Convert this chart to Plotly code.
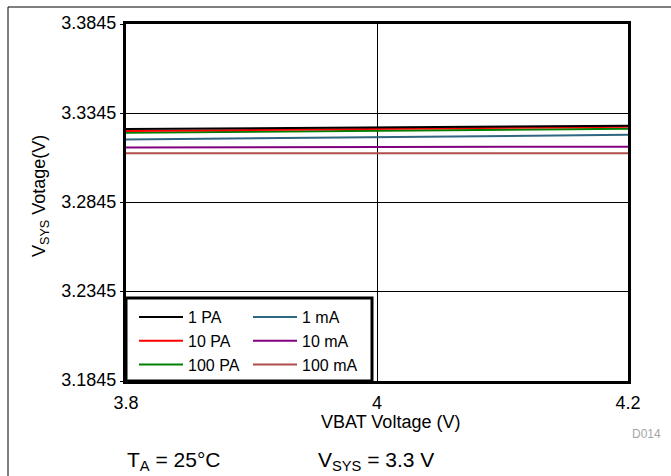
import plotly.graph_objects as go

# VBAT sweep endpoints (V)
vbat = [3.8, 4.2]

# load currents and measured VSYS (V) at each end of the sweep
labels = ["1 PA", "10 PA", "100 PA", "1 mA", "10 mA", "100 mA"]
vsys_1pa = [3.3257, 3.3275]
vsys_10pa = [3.3245, 3.3270]
vsys_100pa = [3.3236, 3.3258]
vsys_1ma = [3.3198, 3.3224]
vsys_10ma = [3.3153, 3.3158]
vsys_100ma = [3.3121, 3.3121]

series = [vsys_1pa, vsys_10pa, vsys_100pa, vsys_1ma, vsys_10ma, vsys_100ma]
colors = ["#000000", "#ff0000", "#008000", "#2f6680", "#800080", "#b04c4c"]
legend_ids = ["legend", "legend", "legend", "legend2", "legend2", "legend2"]

y_ticks = [3.1845, 3.2345, 3.2845, 3.3345, 3.3845]
x_ticks = [3.8, 4.0, 4.2]
x_ticktext = ["3.8", "4", "4.2"]

# page is 671x476; plot box in pixels
W, H = 671, 476
L, R, T, B = 126, 43, 24, 95
pw, ph = W - L - R, H - T - B


def px(x):
    return (x - L) / pw


def py(y):
    return (H - B - y) / ph


FONT = "Liberation Sans, Arial, sans-serif"

fig = go.Figure()

# draw bottom curves first so black/red end up on top
for i in [5, 4, 3, 2, 1, 0]:
    fig.add_trace(go.Scatter(
        x=vbat,
        y=series[i],
        mode="lines",
        name=labels[i],
        line=dict(color=colors[i], width=2),
        legend=legend_ids[i],
        legendrank=i + 1,
    ))

fig.update_xaxes(
    range=[3.8, 4.2],
    tickvals=x_ticks,
    ticktext=x_ticktext,
    showgrid=True,
    gridcolor="#000000",
    gridwidth=1,
    zeroline=False,
    showline=True,
    linecolor="#000000",
    linewidth=3,
    mirror=True,
    ticks="",
    ticklabelstandoff=3,
    tickfont=dict(family=FONT, size=18, color="#000000"),
)
fig.update_yaxes(
    range=[3.1845, 3.3845],
    tickvals=y_ticks,
    ticktext=[f"{v:.4f}" for v in y_ticks],
    showgrid=True,
    gridcolor="#000000",
    gridwidth=1,
    zeroline=False,
    showline=True,
    linecolor="#000000",
    linewidth=3,
    mirror=True,
    ticks="outside",
    ticklen=3,
    tickcolor="#000000",
    ticklabelshift=-1,
    tickfont=dict(family=FONT, size=18, color="#000000"),
)

# outer frame lines (top and left)
fig.add_shape(type="line", xref="paper", yref="paper",
              x0=px(8), x1=px(W), y0=py(7), y1=py(7),
              line=dict(color="#000000", width=1))
fig.add_shape(type="line", xref="paper", yref="paper",
              x0=px(8), x1=px(8), y0=py(7), y1=py(H),
              line=dict(color="#000000", width=1))

# legend box
fig.add_shape(type="rect", xref="paper", yref="paper",
              x0=px(126), x1=px(372), y0=py(298), y1=py(381),
              line=dict(color="#000000", width=3), fillcolor="white",
              layer="above")

annotations = [
    dict(x=px(390), y=py(422), text="VBAT Voltage (V)",
         font=dict(family=FONT, size=18, color="#000000")),
    dict(x=px(41), y=py(196), text="V<sub>SYS</sub> Votage(V)", textangle=-90,
         font=dict(family=FONT, size=18, color="#000000")),
    dict(x=px(646), y=py(434), text="D014",
         font=dict(family=FONT, size=12, color="#a6a6a6")),
    dict(x=px(173), y=py(461), text="T<sub>A</sub> = 25°C",
         font=dict(family=FONT, size=21, color="#000000")),
    dict(x=px(376), y=py(461), text="V<sub>SYS</sub> = 3.3 V",
         font=dict(family=FONT, size=21, color="#000000")),
]
for a in annotations:
    fig.add_annotation(xref="paper", yref="paper", showarrow=False,
                       xanchor="center", yanchor="middle", **a)

legend_style = dict(
    y=py(300),
    xanchor="left",
    yanchor="top",
    bgcolor="rgba(0,0,0,0)",
    borderwidth=0,
    itemwidth=44,
    font=dict(family=FONT, size=16, color="#000000"),
    traceorder="normal",
)

fig.update_layout(
    width=W,
    height=H,
    margin=dict(l=L, r=R, t=T, b=B),
    paper_bgcolor="white",
    plot_bgcolor="white",
    font=dict(family=FONT, color="#000000"),
    legend=dict(x=px(134), **legend_style),
    legend2=dict(x=px(248), **legend_style),
    showlegend=True,
)

# drop the default 8px body margin so the figure sits at the page origin
fig.write_html("out.html", config={"displayModeBar": False},
               post_script="document.body.style.margin='0';")
